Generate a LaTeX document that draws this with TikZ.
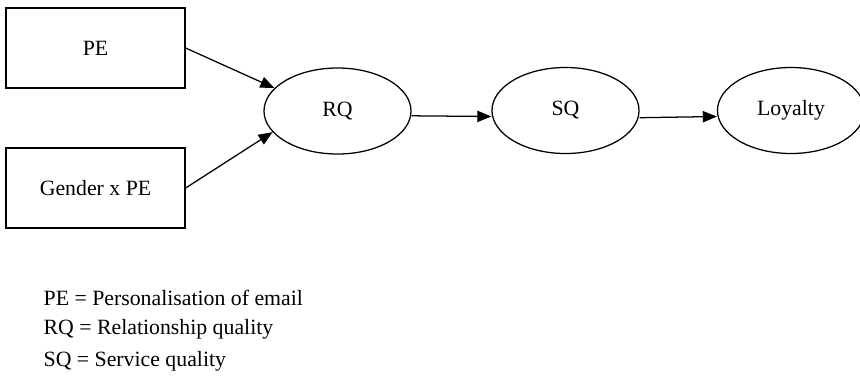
\documentclass[tikz,border=0pt]{standalone}
\usepackage{fontspec}
\setmainfont{Liberation Serif}
\usetikzlibrary{arrows.meta,shapes.geometric,positioning}

\begin{document}
\begin{tikzpicture} [ % styles
    x=0.025cm, y=-0.025cm, line width=0.9pt, >={Triangle[length=10pt,width=8pt]},
    font=\fontsize{15.5}{18}\selectfont,
    rec/.style = {shape = rectangle, minimum height = 2cm, minimum width = 4.475cm, align = center, draw},
    ell/.style = {shape = ellipse, minimum height = 2.15cm, minimum width = 3.675cm, align = center, draw},
    leg/.style = {anchor = west, inner sep = 0pt}
]
\useasboundingbox (0,0) rectangle (860,378);

% left boxes
\node [rec] (pe) at (95.5,48){PE};
\node [rec] (gpe) at (95.5,188){Gender x PE};

% ellipses
\node [ell] (rq) at (337.5,111){RQ};
\node [ell] (sq) at (565.5,110.5){SQ};
\node [ell] (loy) at (791,110.5){Loyalty};

% legend
\node [leg] (l1) at (43,298){PE = Personalisation of email};
\node [leg] (l2) at (43,329.5){RQ = Relationship quality};
\node [leg] (l3) at (43,361){SQ = Service quality};

% arrows
\draw [->] (pe.east)--(rq.160);
\draw [->] (gpe.east)--(rq.198);
\draw [->] ([yshift=-0.12cm]rq.east)--([yshift=-0.15cm]sq.west);
\draw [->] ([yshift=-0.18cm]sq.east)--([yshift=-0.15cm]loy.west);

\end{tikzpicture}
\end{document}
